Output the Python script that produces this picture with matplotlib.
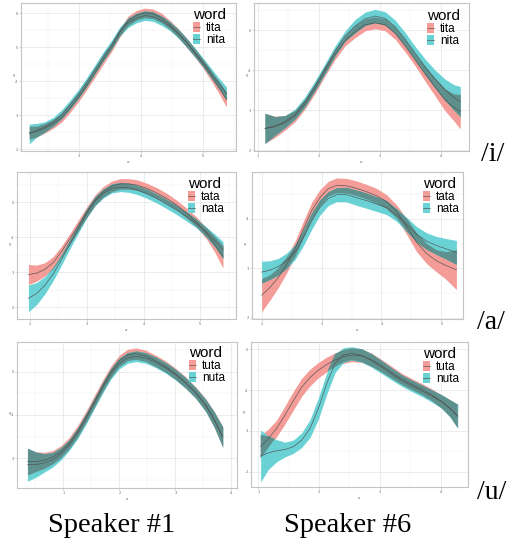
import matplotlib
matplotlib.use("Agg")
import matplotlib.pyplot as plt
import numpy as np
from matplotlib.patches import Patch
from matplotlib.lines import Line2D
from matplotlib.ticker import MultipleLocator, AutoMinorLocator

# ---------------- data ----------------
# Panel 1: Speaker #1, /i/  (a = tita, b = nita)
p1_x = [2.194, 2.312, 2.446, 2.581, 2.715, 2.849, 2.984, 3.118, 3.253, 3.387, 3.522, 3.656, 3.790,
        3.925, 4.059, 4.194, 4.328, 4.462, 4.597, 4.731, 4.866, 5.000, 5.134, 5.269, 5.376]
p1_a_mean = [2.49, 2.52, 2.62, 2.75, 2.93, 3.21, 3.52, 3.87, 4.25, 4.63, 5.00, 5.43, 5.78,
             5.94, 6.01, 5.98, 5.86, 5.66, 5.42, 5.14, 4.83, 4.51, 4.15, 3.78, 3.46]
p1_a_hw = [0.19, 0.16, 0.14, 0.13, 0.13, 0.13, 0.13, 0.13, 0.13, 0.13, 0.13, 0.13, 0.14,
           0.14, 0.14, 0.14, 0.14, 0.13, 0.13, 0.13, 0.13, 0.13, 0.15, 0.18, 0.22]
p1_b_mean = [2.45, 2.56, 2.66, 2.81, 3.03, 3.31, 3.62, 3.97, 4.35, 4.73, 5.08, 5.47, 5.72,
             5.86, 5.93, 5.90, 5.78, 5.62, 5.40, 5.14, 4.85, 4.55, 4.23, 3.90, 3.64]
p1_b_hw = [0.29, 0.20, 0.15, 0.13, 0.13, 0.13, 0.13, 0.13, 0.13, 0.13, 0.13, 0.13, 0.14,
           0.14, 0.14, 0.14, 0.14, 0.13, 0.13, 0.13, 0.13, 0.13, 0.14, 0.16, 0.19]

# Panel 2: Speaker #6, /i/  (a = tita, b = nita)
p2_x = [1.120, 1.284, 1.448, 1.612, 1.776, 1.940, 2.104, 2.268, 2.432, 2.596, 2.760, 2.923,
        3.087, 3.251, 3.415, 3.579, 3.743, 3.907, 4.071, 4.208, 4.317]
p2_a_mean = [2.54, 2.58, 2.68, 2.85, 3.15, 3.54, 3.98, 4.39, 4.73, 4.96, 5.13, 5.18,
             5.13, 4.92, 4.60, 4.25, 3.90, 3.57, 3.25, 3.07, 2.96]
p2_a_hw = [0.375, 0.267, 0.183, 0.142, 0.125, 0.125, 0.125, 0.125, 0.125, 0.15, 0.15, 0.15,
           0.15, 0.15, 0.15, 0.15, 0.183, 0.225, 0.275, 0.333, 0.433]
p2_b_mean = [2.54, 2.60, 2.71, 2.90, 3.21, 3.61, 4.04, 4.48, 4.85, 5.10, 5.28, 5.35,
             5.29, 5.08, 4.77, 4.42, 4.08, 3.77, 3.50, 3.32, 3.21]
p2_b_hw = [0.375, 0.233, 0.15, 0.125, 0.125, 0.125, 0.125, 0.125, 0.125, 0.167, 0.167, 0.167,
           0.167, 0.167, 0.167, 0.167, 0.192, 0.225, 0.267, 0.317, 0.375]

# Panel 3: Speaker #1, /a/  (a = tata, b = nata)
p3_x = [1.971, 2.118, 2.265, 2.412, 2.559, 2.706, 2.853, 3.000, 3.147, 3.294, 3.441, 3.588,
        3.735, 3.882, 4.059, 4.235, 4.412, 4.588, 4.765, 4.941, 5.118, 5.265, 5.400]
p3_a_mean = [2.94, 2.98, 3.09, 3.29, 3.61, 3.97, 4.35, 4.73, 5.07, 5.31, 5.46, 5.53,
             5.53, 5.50, 5.40, 5.27, 5.11, 4.92, 4.69, 4.43, 4.10, 3.78, 3.45]
p3_a_hw = [0.286, 0.229, 0.19, 0.171, 0.152, 0.15, 0.15, 0.15, 0.15, 0.15, 0.15, 0.15,
           0.15, 0.15, 0.15, 0.15, 0.15, 0.14, 0.14, 0.143, 0.162, 0.229, 0.324]
p3_b_mean = [2.26, 2.40, 2.64, 2.97, 3.38, 3.82, 4.26, 4.69, 5.04, 5.26, 5.40, 5.44,
             5.42, 5.36, 5.25, 5.11, 4.95, 4.78, 4.59, 4.39, 4.14, 3.90, 3.64]
p3_b_hw = [0.381, 0.314, 0.248, 0.19, 0.152, 0.13, 0.13, 0.13, 0.13, 0.13, 0.13, 0.13,
           0.13, 0.13, 0.13, 0.13, 0.13, 0.13, 0.13, 0.124, 0.143, 0.181, 0.238]

# Panel 4: Speaker #6, /a/  (a = tata, b = nata)
p4_x = [2.000, 2.139, 2.278, 2.417, 2.556, 2.694, 2.833, 2.972, 3.111, 3.250, 3.417, 3.583,
        3.750, 3.917, 4.083, 4.250, 4.417, 4.583, 4.750, 4.917, 5.083, 5.250]
p4_a_mean = [2.45, 2.61, 2.81, 3.07, 3.39, 3.78, 4.16, 4.43, 4.61, 4.68, 4.67, 4.62,
             4.55, 4.47, 4.35, 4.15, 3.85, 3.53, 3.30, 3.15, 3.05, 2.97]
p4_a_hw = [0.338, 0.257, 0.203, 0.169, 0.155, 0.162, 0.169, 0.162, 0.149, 0.149, 0.149, 0.149,
           0.149, 0.149, 0.142, 0.135, 0.162, 0.189, 0.203, 0.223, 0.284, 0.405]
p4_b_mean = [2.92, 2.96, 3.03, 3.15, 3.32, 3.61, 3.95, 4.23, 4.41, 4.49, 4.49, 4.43,
             4.37, 4.30, 4.23, 4.08, 3.89, 3.69, 3.55, 3.46, 3.39, 3.32]
p4_b_hw = [0.223, 0.189, 0.169, 0.155, 0.149, 0.162, 0.169, 0.155, 0.142, 0.142, 0.149, 0.155,
           0.155, 0.149, 0.142, 0.128, 0.142, 0.155, 0.169, 0.182, 0.209, 0.243]

# Panel 5: Speaker #1, /u/  (a = tuta, b = nuta)
p5_x = [0.357, 0.506, 0.655, 0.804, 0.952, 1.101, 1.250, 1.399, 1.548, 1.696, 1.845, 1.994,
        2.143, 2.292, 2.470, 2.649, 2.827, 3.006, 3.185, 3.363, 3.542, 3.696, 3.845]
p5_a_mean = [2.92, 2.92, 2.95, 3.02, 3.15, 3.35, 3.62, 3.95, 4.31, 4.67, 5.00, 5.25,
             5.39, 5.42, 5.37, 5.25, 5.12, 4.95, 4.75, 4.52, 4.23, 3.89, 3.49]
p5_a_hw = [0.308, 0.231, 0.185, 0.154, 0.138, 0.131, 0.131, 0.131, 0.131, 0.131, 0.131, 0.131,
           0.131, 0.131, 0.131, 0.131, 0.131, 0.131, 0.131, 0.131, 0.146, 0.185, 0.246]
p5_b_mean = [2.85, 2.85, 2.89, 2.96, 3.10, 3.30, 3.57, 3.90, 4.26, 4.62, 4.95, 5.19,
             5.32, 5.36, 5.32, 5.22, 5.09, 4.93, 4.74, 4.51, 4.22, 3.89, 3.49]
p5_b_hw = [0.385, 0.292, 0.215, 0.169, 0.146, 0.123, 0.123, 0.123, 0.123, 0.123, 0.123, 0.123,
           0.123, 0.123, 0.123, 0.123, 0.123, 0.123, 0.123, 0.123, 0.138, 0.177, 0.231]

# Panel 6: Speaker #6, /u/  (a = tuta, b = nuta)
p6_x = [1.038, 1.165, 1.302, 1.440, 1.577, 1.714, 1.852, 1.989, 2.126, 2.264, 2.401, 2.538,
        2.703, 2.868, 3.033, 3.198, 3.363, 3.527, 3.692, 3.857, 4.022, 4.159, 4.280]
p6_a_mean = [2.61, 2.81, 3.06, 3.39, 3.74, 4.07, 4.31, 4.49, 4.63, 4.74, 4.82, 4.86,
             4.84, 4.74, 4.59, 4.43, 4.27, 4.14, 4.02, 3.88, 3.71, 3.55, 3.36]
p6_a_hw = [0.287, 0.23, 0.205, 0.221, 0.23, 0.221, 0.205, 0.189, 0.18, 0.172, 0.164, 0.164,
           0.164, 0.164, 0.156, 0.148, 0.139, 0.139, 0.139, 0.148, 0.164, 0.205, 0.287]
p6_b_mean = [2.38, 2.46, 2.51, 2.54, 2.61, 2.77, 3.06, 3.55, 4.16, 4.66, 4.86, 4.90,
             4.85, 4.72, 4.56, 4.39, 4.23, 4.10, 3.98, 3.85, 3.71, 3.54, 3.36]
p6_b_hw = [0.639, 0.41, 0.27, 0.18, 0.164, 0.18, 0.221, 0.262, 0.262, 0.23, 0.18, 0.164,
           0.164, 0.164, 0.156, 0.148, 0.139, 0.139, 0.139, 0.148, 0.164, 0.213, 0.295]

words = [("tita", "nita"), ("tita", "nita"), ("tata", "nata"),
         ("tata", "nata"), ("tuta", "nuta"), ("tuta", "nuta")]
speakers = ["Speaker #1", "Speaker #6"]
vowels = ["/i/", "/a/", "/u/"]

# ---------------- style / layout ----------------
W, H = 512, 541
RED_FILL = "#F49C97"
CYAN_FILL = "#6AD2D5"
OVER_FILL = "#5E918E"
LINE_C = "#505050"

# axes boxes in pixels: left, right, top, bottom
boxes = [(21, 236, 3, 151), (254, 469, 3, 151),
         (17, 236, 172, 319), (252, 463, 172, 319),
         (17, 237, 342, 488), (251, 468, 342, 487)]
limits = [((2.06, 5.53), (1.95, 6.30)), ((0.94, 4.46), (1.975, 5.675)),
          ((1.77, 5.63), (1.67, 5.87)), ((1.84, 5.36), (1.97, 4.95)),
          ((0.17, 4.10), (2.31, 5.69)), ((0.88, 4.45), (1.62, 5.18))]
legend_anchor = [(193, 8), (427, 9), (188, 177), (423, 177), (189, 346), (423, 347)]

series = [
    (p1_x, p1_a_mean, p1_a_hw, p1_b_mean, p1_b_hw),
    (p2_x, p2_a_mean, p2_a_hw, p2_b_mean, p2_b_hw),
    (p3_x, p3_a_mean, p3_a_hw, p3_b_mean, p3_b_hw),
    (p4_x, p4_a_mean, p4_a_hw, p4_b_mean, p4_b_hw),
    (p5_x, p5_a_mean, p5_a_hw, p5_b_mean, p5_b_hw),
    (p6_x, p6_a_mean, p6_a_hw, p6_b_mean, p6_b_hw),
]

fig = plt.figure(figsize=(W / 100, H / 100), dpi=100)

for box, lim, data, wd, la in zip(boxes, limits, series, words, legend_anchor):
    l, r, t, b = box
    ax = fig.add_axes([l / W, 1 - b / H, (r - l) / W, (b - t) / H])
    x, am, ah, bm, bh = [np.asarray(v, float) for v in data]
    alo, ahi = am - ah, am + ah
    blo, bhi = bm - bh, bm + bh
    ax.fill_between(x, alo, ahi, color=RED_FILL, lw=0, zorder=2)
    ax.fill_between(x, blo, bhi, color=CYAN_FILL, lw=0, zorder=2.1)
    olo = np.maximum(alo, blo)
    ohi = np.minimum(ahi, bhi)
    ax.fill_between(x, olo, ohi, where=ohi > olo, interpolate=True,
                    color=OVER_FILL, lw=0, zorder=2.2)
    ax.plot(x, am, color=LINE_C, lw=0.45, zorder=3)
    ax.plot(x, bm, color=LINE_C, lw=0.45, zorder=3)

    ax.set_xlim(*lim[0])
    ax.set_ylim(*lim[1])
    for axis in (ax.xaxis, ax.yaxis):
        axis.set_major_locator(MultipleLocator(1))
        axis.set_minor_locator(AutoMinorLocator(2))
    ax.grid(which="major", color="#E4E4E4", lw=0.5, zorder=0)
    ax.grid(which="minor", color="#F1F1F1", lw=0.35, zorder=0)
    ax.set_axisbelow(True)
    for sp in ax.spines.values():
        sp.set_color("#C4C4C4")
        sp.set_linewidth(0.8)
    ax.tick_params(which="major", length=1.5, width=0.4, color="#B3B3B3",
                   labelsize=2.5, labelcolor="#666666", pad=1)
    ax.tick_params(which="minor", length=0)
    ax.set_xlabel("x", fontsize=3, color="#555555", labelpad=1)
    ax.set_ylabel("y", fontsize=3, color="#555555", labelpad=1, rotation=0)

    handles = [(Patch(facecolor=RED_FILL, edgecolor="none"), Line2D([], [], color=LINE_C, lw=0.45)),
               (Patch(facecolor=CYAN_FILL, edgecolor="none"), Line2D([], [], color=LINE_C, lw=0.45))]
    leg = ax.legend(handles, list(wd), title="word", loc="upper left",
                    bbox_to_anchor=(la[0] / W, 1 - la[1] / H), bbox_transform=fig.transFigure,
                    frameon=False, borderpad=0, borderaxespad=0,
                    handlelength=0.6, handleheight=0.95,
                    handletextpad=0.5, labelspacing=0.0, alignment="left",
                    prop={"family": "Liberation Sans", "size": 8.5})
    leg.get_title().set_family("Liberation Sans")
    leg.get_title().set_fontsize(11)

# vowel labels on the right
for txt, (xc, yb) in zip(vowels, [(493, 161), (491, 329), (492, 499)]):
    fig.text(xc / W, 1 - yb / H, txt, ha="center", va="baseline",
             fontsize=20, family="Liberation Serif")

# speaker labels at the bottom
for txt, xc in zip(speakers, [112, 348]):
    fig.text(xc / W, 1 - 532 / H, txt, ha="center", va="baseline",
             fontsize=20.5, family="Liberation Serif")

fig.savefig("out.png", dpi=100)
